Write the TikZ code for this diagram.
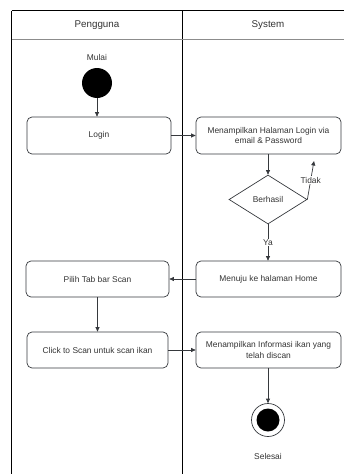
\documentclass[tikz,border=0pt]{standalone}
\usepackage{fontspec}
\setmainfont{Liberation Sans}
\usetikzlibrary{shapes.geometric,arrows.meta}
\definecolor{boxline}{HTML}{36393D}
\definecolor{txt}{HTML}{333333}
\definecolor{sepgray}{HTML}{8C8C8C}
\begin{document}
\begin{tikzpicture}[x=1pt,y=-1pt,
  lanetext/.style={font=\fontsize{9.8}{12}\selectfont, text=txt},
  act/.style={draw=boxline, line width=0.7pt, rounded corners=5pt,
    minimum height=36pt, align=center, inner sep=1pt,
    font=\fontsize{8.4}{10.5}\selectfont, text=txt},
  lbl/.style={font=\fontsize{8.4}{10}\selectfont, text=txt},
  flow/.style={draw=boxline, line width=0.7pt,
    -{Triangle[length=4.5pt,width=4pt]}},
  decision/.style={draw=boxline, line width=0.7pt, shape=diamond,
    minimum width=78pt, minimum height=49pt, inner sep=0pt,
    font=\fontsize{8.4}{10}\selectfont, text=txt},
  lane/.style={line width=1pt, draw=black},
]
\useasboundingbox (0,0) rectangle (344,474);

% swimlane frame
\draw[lane, line width=1.3pt] (344,10.5) -- (11.5,10.5);
\draw[lane] (11.5,10.5) -- (11.5,474);
\draw[lane] (182,10.5) -- (182,474);
\draw[sepgray, line width=1pt] (11.5,39) -- (344,39);
\node[lanetext] (laneA) at (97,25) {Pengguna};
\node[lanetext] (laneB) at (268,25) {System};

% start
\node[lbl] (mulai) at (97,57) {Mulai};
\node[circle, fill=black, minimum size=30pt, inner sep=0pt] (start) at (97,83) {};

% activities
\node[act, minimum width=144pt, minimum height=37pt] (login) at (99,135.5) {Login};
\node[act, minimum width=145pt, minimum height=37pt] (showlogin) at (268.5,135.5)
  {Menampilkan Halaman Login via\\email \& Password};
\node[decision] (ok) at (268,199.5) {Berhasil};
\node[act, minimum width=145pt] (home) at (268.5,279) {Menuju ke halaman Home};
\node[act, minimum width=143pt] (tab) at (97.5,279) {Pilih Tab bar Scan};
\node[act, minimum width=141pt] (click) at (97.5,350) {Click to Scan untuk scan ikan};
\node[act, minimum width=145pt] (info) at (268.5,350)
  {Menampilkan Informasi ikan yang\\telah discan};

% end
\node[circle, draw=boxline, fill=white, line width=0.7pt, minimum size=33pt, inner sep=0pt] (stop) at (268,420) {};
\node[circle, fill=black, minimum size=23pt, inner sep=0pt] (stopdot) at (stop.center) {};
\node[lbl] (selesai) at (268,456) {Selesai};

\coordinate (retry) at (314,161);

% flows
\draw[flow] (start) -- (start |- login.north);
\draw[flow] (login.east) -- (showlogin.west);
\draw[flow] (showlogin.south -| ok.north) -- (ok.north);
\draw[flow] (ok.east) -- node[lbl, fill=white, inner sep=1pt, pos=0.5] {Tidak} (retry);
\draw[flow] (ok.south) -- node[lbl, fill=white, inner sep=1pt, pos=0.5] {Ya} (ok.south |- home.north);
\draw[flow] (home.west) -- (tab.east);
\draw[flow] (tab.south) -- (tab.south |- click.north);
\draw[flow] (click.east) -- (click.east -| info.west);
\draw[flow] (info.south -| stop.north) -- (stop.north);
\end{tikzpicture}
\end{document}
